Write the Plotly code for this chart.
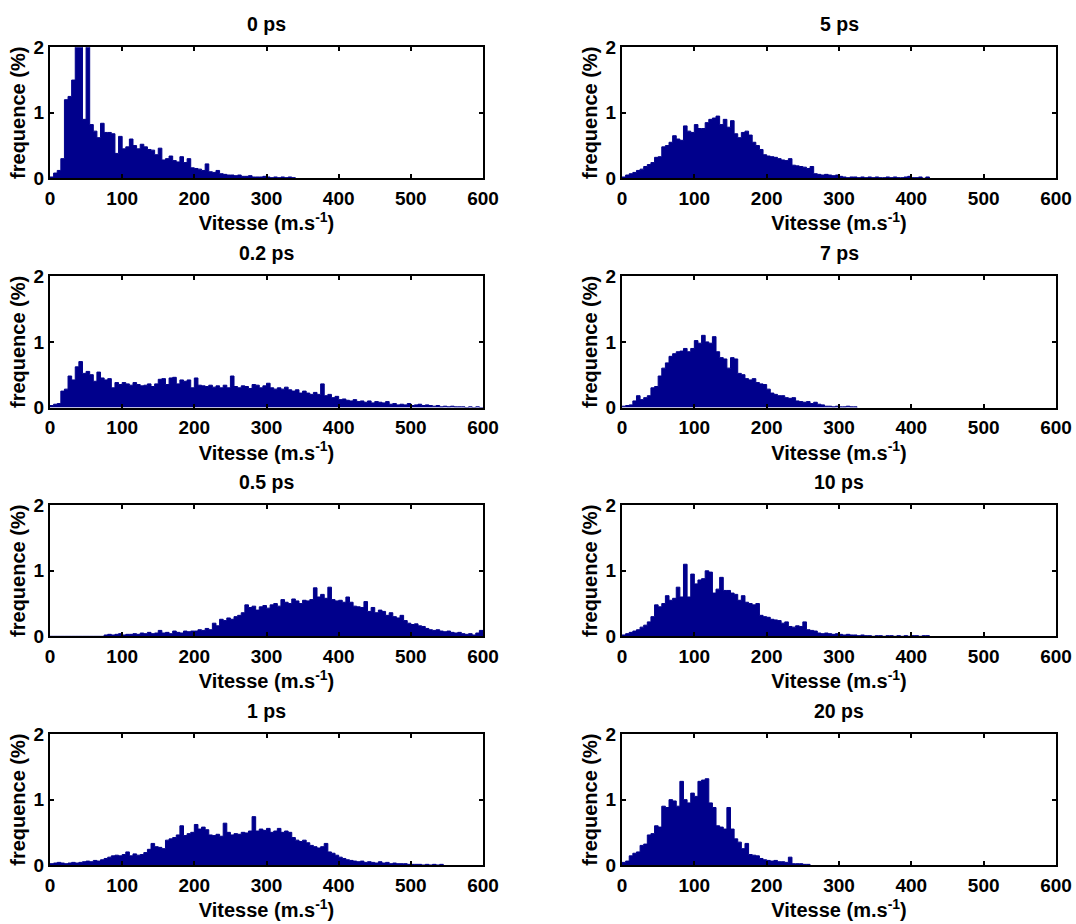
import numpy as np
import plotly.graph_objects as go

# ---------------- data (histograms, 5 m/s bins starting at 0) ----------------
BIN_WIDTH = 5
titles = ["0 ps", "0.2 ps", "0.5 ps", "1 ps", "5 ps", "7 ps", "10 ps", "20 ps"]

freq_0ps = [0.02, 0.08, 0.12, 0.3, 1.2, 1.25, 1.5, 2.6, 2.4, 0.9,
            2.5, 0.82, 0.72, 0.62, 0.84, 0.7, 0.7, 0.68, 0.38, 0.64,
            0.45, 0.48, 0.6, 0.5, 0.45, 0.52, 0.48, 0.44, 0.43, 0.36,
            0.46, 0.28, 0.3, 0.34, 0.27, 0.25, 0.33, 0.24, 0.3, 0.16,
            0.15, 0.14, 0.12, 0.22, 0.1, 0.09, 0.12, 0.07, 0.06, 0.05,
            0.05, 0.04, 0.05, 0.03, 0.03, 0.04, 0.02, 0.02, 0.02, 0.03,
            0.02, 0.01, 0.02, 0.01, 0.02, 0.01, 0.02, 0.01]

freq_02ps = [0.03, 0.05, 0.06, 0.25, 0.28, 0.48, 0.42, 0.62, 0.7, 0.52,
             0.55, 0.5, 0.4, 0.54, 0.45, 0.42, 0.44, 0.3, 0.38, 0.35,
             0.38, 0.36, 0.34, 0.38, 0.35, 0.33, 0.34, 0.36, 0.32, 0.36,
             0.43, 0.44, 0.35, 0.45, 0.46, 0.36, 0.42, 0.4, 0.42, 0.3,
             0.45, 0.34, 0.33, 0.32, 0.34, 0.31, 0.33, 0.3, 0.34, 0.3,
             0.48, 0.32, 0.3, 0.33, 0.32, 0.29, 0.35, 0.34, 0.3, 0.33,
             0.37, 0.3, 0.28, 0.3, 0.28, 0.31, 0.27, 0.25, 0.27, 0.22,
             0.25, 0.22, 0.2, 0.23, 0.2, 0.36, 0.18, 0.2, 0.15, 0.17,
             0.12, 0.13, 0.11, 0.1, 0.12, 0.09, 0.1, 0.08, 0.1, 0.07,
             0.09, 0.08, 0.07, 0.09, 0.05, 0.06, 0.04, 0.05, 0.04, 0.06,
             0.03, 0.04, 0.05, 0.03, 0.04, 0.03, 0.02, 0.03, 0.01, 0.02,
             0.01, 0.02, 0.01, 0.01, 0.01, 0.0, 0.01, 0.0, 0.01, 0.0]

freq_05ps = [0.0, 0.0, 0.0, 0.0, 0.0, 0.0, 0.0, 0.0, 0.0, 0.0,
             0.0, 0.0, 0.0, 0.0, 0.0, 0.02, 0.03, 0.02, 0.03, 0.04,
             0.02, 0.03, 0.03, 0.04, 0.03, 0.05, 0.04, 0.06, 0.04, 0.05,
             0.09, 0.05, 0.06, 0.04, 0.08, 0.06, 0.05, 0.08, 0.07, 0.08,
             0.08, 0.1, 0.09, 0.12, 0.1, 0.2, 0.16, 0.26, 0.24, 0.28,
             0.26, 0.3, 0.32, 0.36, 0.48, 0.44, 0.46, 0.4, 0.45, 0.47,
             0.43, 0.48, 0.5, 0.46, 0.56, 0.52, 0.5, 0.57, 0.54, 0.5,
             0.55, 0.54, 0.56, 0.74, 0.6, 0.64, 0.58, 0.75, 0.56, 0.54,
             0.55, 0.52, 0.6, 0.52, 0.46, 0.45, 0.44, 0.53, 0.38, 0.44,
             0.36, 0.4, 0.38, 0.32, 0.36, 0.3, 0.28, 0.32, 0.24, 0.2,
             0.18, 0.19, 0.16, 0.15, 0.12, 0.1, 0.09, 0.1, 0.08, 0.07,
             0.08, 0.06, 0.05, 0.06, 0.04, 0.03, 0.04, 0.02, 0.05, 0.09]

freq_1ps = [0.02, 0.03, 0.04, 0.03, 0.02, 0.03, 0.04, 0.03, 0.04, 0.05,
            0.06, 0.05, 0.07, 0.06, 0.08, 0.1, 0.12, 0.14, 0.15, 0.14,
            0.16, 0.2, 0.14, 0.17, 0.15, 0.16, 0.19, 0.24, 0.33, 0.28,
            0.27, 0.25, 0.38, 0.4, 0.42, 0.46, 0.6, 0.45, 0.48, 0.5,
            0.62, 0.55, 0.58, 0.54, 0.46, 0.45, 0.47, 0.44, 0.64, 0.5,
            0.46, 0.48, 0.47, 0.5, 0.49, 0.52, 0.74, 0.52, 0.55, 0.53,
            0.56, 0.5, 0.52, 0.56, 0.5, 0.52, 0.5, 0.42, 0.38, 0.36,
            0.38, 0.34, 0.3, 0.28, 0.26, 0.28, 0.33, 0.2, 0.18, 0.15,
            0.12, 0.1, 0.08, 0.07, 0.06, 0.05, 0.06, 0.04, 0.05, 0.04,
            0.03, 0.05, 0.03, 0.04, 0.02, 0.03, 0.02, 0.02, 0.02, 0.01,
            0.01, 0.01, 0.01, 0.0, 0.01, 0.0, 0.01, 0.0, 0.01]

freq_5ps = [0.02, 0.05, 0.07, 0.09, 0.12, 0.14, 0.18, 0.21, 0.24, 0.32,
            0.33, 0.48, 0.5, 0.55, 0.65, 0.6, 0.58, 0.8, 0.72, 0.7,
            0.82, 0.76, 0.76, 0.85, 0.9, 0.92, 0.95, 0.82, 0.9, 0.78,
            0.88, 0.68, 0.62, 0.7, 0.72, 0.66, 0.55, 0.5, 0.44, 0.36,
            0.34, 0.33, 0.32, 0.3, 0.28, 0.27, 0.3, 0.2, 0.19, 0.18,
            0.17, 0.15, 0.18, 0.07, 0.06, 0.05, 0.06, 0.05, 0.04, 0.05,
            0.03, 0.02, 0.01, 0.02, 0.02, 0.01, 0.02, 0.01, 0.02, 0.01,
            0.02, 0.01, 0.01, 0.02, 0.01, 0.02, 0.01, 0.01, 0.02, 0.03,
            0.01, 0.01, 0.02, 0.0, 0.02]

freq_7ps = [0.02, 0.03, 0.04, 0.1, 0.18, 0.12, 0.15, 0.18, 0.3, 0.32,
            0.48, 0.6, 0.68, 0.78, 0.82, 0.85, 0.86, 0.9, 0.85, 0.9,
            1.02, 0.98, 1.1, 1.0, 0.98, 1.08, 0.85, 0.76, 0.74, 0.6,
            0.76, 0.74, 0.52, 0.5, 0.44, 0.42, 0.44, 0.38, 0.36, 0.35,
            0.28, 0.22, 0.2, 0.18, 0.18, 0.15, 0.14, 0.15, 0.1, 0.09,
            0.08, 0.09, 0.06, 0.08, 0.05, 0.04, 0.02, 0.02, 0.01, 0.02,
            0.01, 0.01, 0.02, 0.01, 0.01]

freq_10ps = [0.02, 0.04, 0.06, 0.08, 0.1, 0.14, 0.17, 0.22, 0.3, 0.48,
             0.45, 0.5, 0.62, 0.55, 0.58, 0.75, 0.6, 1.1, 0.6, 0.95,
             0.8, 0.86, 0.88, 1.0, 0.98, 0.66, 0.72, 0.9, 0.7, 0.7,
             0.66, 0.64, 0.55, 0.62, 0.52, 0.5, 0.48, 0.5, 0.32, 0.3,
             0.29, 0.26, 0.25, 0.24, 0.2, 0.22, 0.15, 0.14, 0.16, 0.15,
             0.22, 0.1, 0.09, 0.08, 0.05, 0.04, 0.05, 0.04, 0.03, 0.04,
             0.03, 0.02, 0.03, 0.02, 0.02, 0.01, 0.02, 0.01, 0.01, 0.0,
             0.01, 0.01, 0.0, 0.01, 0.01, 0.0, 0.01, 0.0, 0.01, 0.0,
             0.01, 0.01, 0.0, 0.01, 0.01]

freq_20ps = [0.04, 0.06, 0.14, 0.18, 0.2, 0.3, 0.32, 0.46, 0.48, 0.6,
             0.58, 0.9, 0.88, 1.0, 0.98, 0.9, 1.28, 1.0, 0.95, 1.1,
             1.05, 1.28, 1.3, 1.32, 0.95, 0.88, 0.6, 0.58, 0.55, 0.88,
             0.55, 0.4, 0.35, 0.25, 0.33, 0.16, 0.15, 0.14, 0.1, 0.08,
             0.07, 0.06, 0.07, 0.05, 0.05, 0.04, 0.12, 0.02, 0.02, 0.02,
             0.01, 0.01]

series = [freq_0ps, freq_02ps, freq_05ps, freq_1ps,
          freq_5ps, freq_7ps, freq_10ps, freq_20ps]

x_ticks = [0, 100, 200, 300, 400, 500, 600]
y_ticks = [0, 1, 2]
x_label = "Vitesse (m.s<sup>-1</sup>)"
y_label = "frequence (%)"

# ---------------- layout geometry ----------------
W, H = 1076, 924
col_dom = [[50 / W, 483 / W], [622 / W, 1056 / W]]
row_px = [(47.3, 178.3), (276.3, 407.5), (505.3, 636.3), (734.3, 865.0)]
row_dom = [[1 - b / H, 1 - t / H] for (t, b) in row_px]

BAR = "rgb(0,0,140)"
FONT = "Liberation Sans, Arial, Helvetica, sans-serif"

fig = go.Figure()
annotations = []
for i, vals in enumerate(series):
    col = 0 if i < 4 else 1
    row = i % 4
    n = i + 1
    xa = "x" if n == 1 else f"x{n}"
    ya = "y" if n == 1 else f"y{n}"
    # histogram drawn as a filled step outline: each bin holds its value
    edges = np.arange(len(vals) + 1) * BIN_WIDTH
    heights = list(vals) + [0.0]
    fig.add_trace(go.Scatter(
        x=edges, y=heights, mode="lines", line=dict(color=BAR, width=1, shape="hv"),
        fill="tozeroy", fillcolor=BAR,
        xaxis=xa, yaxis=ya, showlegend=False, hoverinfo="x+y"))
    axis_common = dict(
        showline=True, linecolor="black", linewidth=2, mirror="ticks",
        ticks="inside", ticklen=4, tickwidth=2, tickcolor="black",
        showgrid=False, zeroline=False, automargin=False,
        tickfont=dict(family=FONT, size=19, color="black", weight="bold"),
    )
    fig.update_layout(**{
        ("xaxis" if n == 1 else f"xaxis{n}"): dict(
            domain=col_dom[col], anchor=ya, range=[0, 600],
            tickmode="array", tickvals=x_ticks,
            ticktext=[str(v) for v in x_ticks], ticklabelstandoff=2,
            title=dict(text=x_label, standoff=5,
                       font=dict(family=FONT, size=20, color="black", weight="bold")),
            **axis_common),
        ("yaxis" if n == 1 else f"yaxis{n}"): dict(
            domain=row_dom[row], anchor=xa, range=[0, 2],
            tickmode="array", tickvals=y_ticks,
            ticktext=[str(v) for v in y_ticks],
            title=dict(text=y_label, standoff=3,
                       font=dict(family=FONT, size=20, color="black", weight="bold")),
            **axis_common),
    })
    annotations.append(dict(
        text=titles[i], x=0.5, y=1, xref=f"{xa} domain", yref=f"{ya} domain",
        xanchor="center", yanchor="bottom", yshift=10, showarrow=False,
        font=dict(family=FONT, size=19.5, color="black", weight="bold")))

fig.update_layout(
    width=W, height=H, margin=dict(l=0, r=0, t=0, b=0),
    paper_bgcolor="white", plot_bgcolor="white",
    annotations=annotations,
)

# remove the browser's default 8px page margin so the figure sits at the top-left corner
fig.write_html("out.html", config={"displayModeBar": False},
               post_script="document.body.style.margin='0px';")
